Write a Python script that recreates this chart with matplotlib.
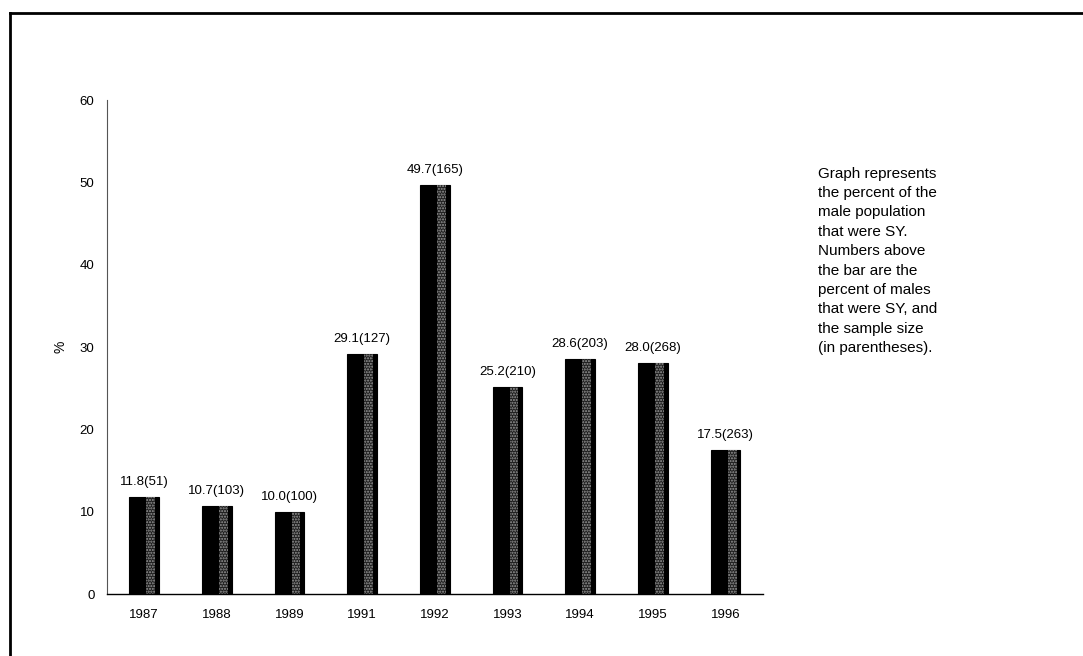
import matplotlib
matplotlib.use("Agg")
import matplotlib.pyplot as plt
from matplotlib.lines import Line2D

years = ["1987", "1988", "1989", "1991", "1992", "1993", "1994", "1995", "1996"]
percent = [11.8, 10.7, 10.0, 29.1, 49.7, 25.2, 28.6, 28.0, 17.5]
sample = [51, 103, 100, 127, 165, 210, 203, 268, 263]
yticks = [0, 10, 20, 30, 40, 50, 60]
note = ["Graph represents", "the percent of the", "male population", "that were SY.",
        "Numbers above", "the bar are the", "percent of males", "that were SY, and",
        "the sample size", "(in parentheses)."]

plt.rcParams['font.family'] = ['Liberation Sans', 'DejaVu Sans']

fig = plt.figure(figsize=(10.83, 6.56), dpi=100)
ax = fig.add_axes([0.0988, 0.0945, 0.606, 0.753])

x = list(range(len(years)))
w = 0.41
ax.bar(x, percent, width=w, color="black", edgecolor="black", linewidth=0.8, zorder=2)
# lighter stippled strip on the right side of each bar
ax.bar([i + w * 0.22 for i in x], percent, width=w * 0.30, color="#1e1e1e",
       hatch="......", edgecolor="#9a9a9a", linewidth=0, zorder=3)

for i, (p, n) in enumerate(zip(percent, sample)):
    ax.annotate(f"{p:.1f}({n})", (i, p), xytext=(0, 6.5), textcoords="offset points",
                ha="center", va="bottom", fontsize=9.5)

ax.set_xlim(-0.51, 8.52)
ax.set_ylim(0, 60)
ax.set_xticks(x)
ax.set_xticklabels(years, fontsize=9.5)
ax.set_yticks(yticks)
ax.set_yticklabels([str(t) for t in yticks], fontsize=9.5)
ax.tick_params(axis="both", length=0)
ax.tick_params(axis="x", pad=11)
ax.tick_params(axis="y", pad=9)
for s in ["top", "right"]:
    ax.spines[s].set_visible(False)
ax.spines["left"].set_color("#555555")
ax.spines["left"].set_linewidth(0.8)
ax.spines["bottom"].set_linewidth(1.0)
ax.set_ylabel("%", fontsize=10, rotation=90, labelpad=9)

fig.text(0.755, 0.746, "\n".join(note), fontsize=11, va="top", ha="left",
         linespacing=1.49)

# page frame (left and top edges)
fig.add_artist(Line2D([0.0092, 0.0092], [0.0, 0.980], color="black", linewidth=2.0))
fig.add_artist(Line2D([0.0092, 1.0], [0.980, 0.980], color="black", linewidth=2.0))

fig.savefig("out.png", dpi=100)
